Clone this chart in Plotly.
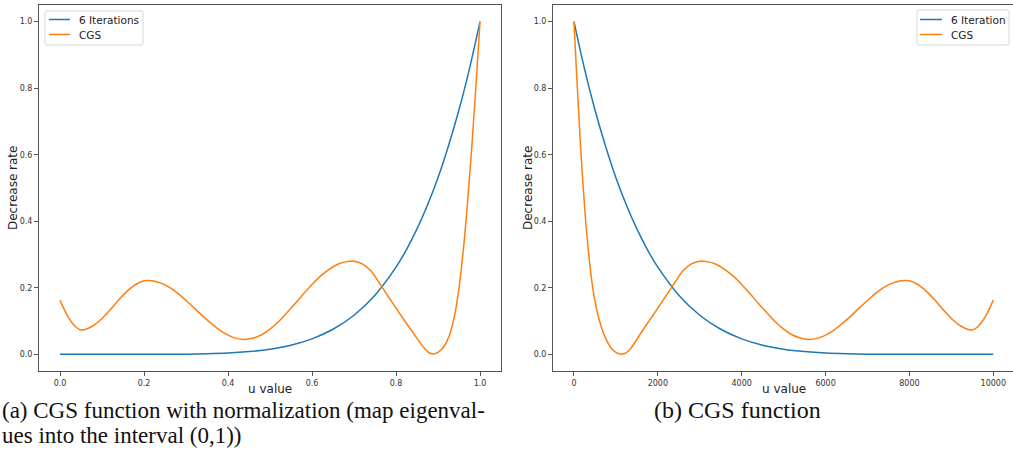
import re
import plotly.graph_objects as go

# ---- data ----
# (a) normalized u in [0, 1]
x_a_iter = [0.0, 0.05, 0.1, 0.15, 0.2, 0.25, 0.3, 0.35, 0.4, 0.45, 0.5, 0.55, 0.6, 0.65, 0.7,
            0.75, 0.8, 0.825, 0.85, 0.875, 0.9, 0.925, 0.95, 0.975, 1.0]
y_a_iter = [0.0, 0.0, 0.0, 0.0, 0.0001, 0.0002, 0.0007, 0.0018, 0.004, 0.0083, 0.0156, 0.0277,
            0.0467, 0.0754, 0.1176, 0.178, 0.262, 0.315, 0.377, 0.449, 0.531, 0.627, 0.735,
            0.859, 1.0]

x_a_cgs = [0.0, 0.01, 0.02, 0.03, 0.04, 0.05, 0.06, 0.07, 0.08, 0.10, 0.12, 0.14, 0.16, 0.18,
           0.20, 0.21, 0.22, 0.24, 0.26, 0.28, 0.30, 0.32, 0.34, 0.36, 0.38, 0.40, 0.42, 0.44,
           0.46, 0.48, 0.50, 0.52, 0.54, 0.56, 0.58, 0.60, 0.62, 0.64, 0.66, 0.68, 0.70, 0.72,
           0.74, 0.76, 0.78, 0.80, 0.82, 0.84, 0.85, 0.86, 0.87, 0.88, 0.89, 0.90, 0.91,
           0.92, 0.93, 0.94, 0.95, 0.96, 0.97, 0.98, 0.99, 1.00]
y_a_cgs = [0.163, 0.135, 0.111, 0.093, 0.080, 0.073, 0.075, 0.080, 0.087, 0.108, 0.135, 0.164,
           0.190, 0.210, 0.221, 0.222, 0.221, 0.214, 0.202, 0.184, 0.162, 0.139, 0.115, 0.093,
           0.073, 0.058, 0.048, 0.045, 0.049, 0.059, 0.076, 0.098, 0.125, 0.153, 0.182, 0.210,
           0.235, 0.255, 0.270, 0.278, 0.280, 0.272, 0.251, 0.215, 0.177, 0.139, 0.102, 0.066,
           0.048, 0.030, 0.015, 0.004, 0.001, 0.006, 0.017, 0.036, 0.068, 0.120, 0.200,
           0.310, 0.450, 0.615, 0.800, 1.0]

# (b) raw u in [0, 10000]
u_b_iter = [0, 250, 500, 750, 1000, 1250, 1500, 1750, 2000, 2500, 3000, 3500, 4000, 4500, 5000,
            5500, 6000, 6500, 7000, 7500, 8000, 8500, 9000, 9500, 10000]
y_b_iter = [1.0, 0.859, 0.735, 0.627, 0.531, 0.449, 0.377, 0.315, 0.262, 0.178, 0.1176, 0.0754,
            0.0467, 0.0277, 0.0156, 0.0083, 0.004, 0.0018, 0.0007, 0.0002, 0.0001, 0.0, 0.0,
            0.0, 0.0]

u_b_cgs = [0, 50, 100, 150, 200, 250, 300, 400, 500, 600, 700, 800, 900, 1000, 1100,
           1200, 1300, 1400, 1500, 1600, 1800, 2000, 2200, 2400, 2600, 2800, 3000, 3200, 3400,
           3600, 3800, 4000, 4200, 4400, 4600, 4800, 5000, 5200, 5400, 5600, 5800, 6000, 6200,
           6400, 6600, 6800, 7000, 7200, 7400, 7600, 7800, 7900, 8000, 8200, 8400, 8600, 8800,
           9000, 9200, 9300, 9400, 9500, 9600, 9700, 9800, 9900, 10000]
y_b_cgs = [1.0, 0.875, 0.755, 0.640, 0.540, 0.450, 0.370, 0.245, 0.160, 0.105, 0.065, 0.037,
           0.017, 0.006, 0.001, 0.002, 0.010, 0.026, 0.045, 0.065, 0.102, 0.139, 0.177,
           0.215, 0.251, 0.272, 0.280, 0.278, 0.270, 0.255, 0.235, 0.210, 0.182, 0.153, 0.125,
           0.098, 0.076, 0.059, 0.049, 0.045, 0.048, 0.058, 0.073, 0.093, 0.115, 0.139, 0.162,
           0.184, 0.202, 0.214, 0.221, 0.222, 0.221, 0.210, 0.190, 0.164, 0.135, 0.108, 0.087,
           0.080, 0.075, 0.073, 0.080, 0.093, 0.111, 0.135, 0.163]

y_ticks = [0.0, 0.2, 0.4, 0.6, 0.8, 1.0]
x_a_ticks = [0.0, 0.2, 0.4, 0.6, 0.8, 1.0]
x_b_ticks = [0, 2000, 4000, 6000, 8000, 10000]

names_a = ["6 Iterations", "CGS"]
names_b = ["6 Iteration", "CGS"]
captions_a = ["(a) CGS function with normalization (map eigenval-", "ues into the interval (0,1))"]
caption_b = "(b) CGS function"

# ---- figure ----
W, H = 1013, 465
BLUE, ORANGE = "#1f77b4", "#ff7f0e"
SANS = "DejaVu Sans"
SERIF = "Liberation Serif"


def px_x(p):
    return p / W


def px_y(p):
    return 1 - p / H


fig = go.Figure()
line_kw = dict(width=1.5, shape="spline", smoothing=1.0)
fig.add_trace(go.Scatter(x=x_a_iter, y=y_a_iter, mode="lines", name=names_a[0], showlegend=False,
                         line=dict(color=BLUE, **line_kw), xaxis="x", yaxis="y"))
fig.add_trace(go.Scatter(x=x_a_cgs, y=y_a_cgs, mode="lines", name=names_a[1], showlegend=False,
                         line=dict(color=ORANGE, **line_kw), xaxis="x", yaxis="y"))
fig.add_trace(go.Scatter(x=u_b_iter, y=y_b_iter, mode="lines", name=names_b[0], showlegend=False,
                         line=dict(color=BLUE, **line_kw), xaxis="x2", yaxis="y2"))
fig.add_trace(go.Scatter(x=u_b_cgs, y=y_b_cgs, mode="lines", name=names_b[1], showlegend=False,
                         line=dict(color=ORANGE, **line_kw), xaxis="x2", yaxis="y2"))

axis_common = dict(showline=True, linecolor="#555", linewidth=1, ticks="outside", ticklen=4,
                   tickcolor="#555", tickwidth=1, showgrid=False, zeroline=False,
                   tickfont=dict(family=SANS, size=8, color="#333"))

ydom = [px_y(371), px_y(5)]
fig.update_layout(
    width=W, height=H,
    margin=dict(l=0, r=0, t=0, b=0, autoexpand=False),
    paper_bgcolor="white", plot_bgcolor="white",
    xaxis=dict(domain=[px_x(39), px_x(501)], range=[-0.05, 1.05], tickvals=x_a_ticks,
               ticktext=[f"{v:.1f}" for v in x_a_ticks], anchor="y", mirror=True, **axis_common),
    yaxis=dict(domain=ydom, range=[-0.05, 1.05], tickvals=y_ticks,
               ticktext=[f"{v:.1f}" for v in y_ticks], anchor="x", mirror=True, **axis_common),
    xaxis2=dict(domain=[px_x(553), 1.0], range=[-500, 10470], tickvals=x_b_ticks,
                ticktext=[str(v) for v in x_b_ticks], anchor="y2", mirror=True, **axis_common),
    yaxis2=dict(domain=ydom, range=[-0.05, 1.05], tickvals=y_ticks,
                ticktext=[f"{v:.1f}" for v in y_ticks], anchor="x2", mirror=False, **axis_common),
    showlegend=False,
)

shapes = []
ann = []


def legend_box(x0, x1, y0, y1, line_x0, line_x1, text_x, names):
    r = 2
    path = (f"M{x0 + r},{y0} L{x1 - r},{y0} Q{x1},{y0} {x1},{y0 + r} L{x1},{y1 - r} "
            f"Q{x1},{y1} {x1 - r},{y1} L{x0 + r},{y1} Q{x0},{y1} {x0},{y1 - r} "
            f"L{x0},{y0 + r} Q{x0},{y0} {x0 + r},{y0} Z")

    def conv(m):
        px, py = float(m.group(1)), float(m.group(2))
        return f"{px_x(px):.5f},{px_y(py):.5f}"
    path = re.sub(r"([0-9.]+),([0-9.]+)", conv, path)
    shapes.append(dict(type="path", path=path, xref="paper", yref="paper",
                       line=dict(color="#d5d5d5", width=1), fillcolor="rgba(255,255,255,0.85)",
                       layer="above"))
    for name, col, yy in zip(names, (BLUE, ORANGE), (19.5, 34.5)):
        shapes.append(dict(type="line", xref="paper", yref="paper", x0=px_x(line_x0),
                           x1=px_x(line_x1), y0=px_y(yy), y1=px_y(yy),
                           line=dict(color=col, width=1.5), layer="above"))
        ann.append(dict(text=name, x=px_x(text_x), y=px_y(yy), xref="paper", yref="paper",
                        showarrow=False, xanchor="left", yanchor="middle",
                        font=dict(family=SANS, size=10.5, color="#222")))


legend_box(45, 143, 11, 45, 49, 70, 77, names_a)
legend_box(917, 1009, 10, 45, 920, 942, 949, names_b)

# axis titles
for cx in (270, 783.5):
    ann.append(dict(text="u value", x=px_x(cx), y=px_y(389), xref="paper", yref="paper",
                    showarrow=False, xanchor="center", yanchor="middle", borderpad=0,
                    font=dict(family=SANS, size=12, color="#222")))
for cx in (13, 528):
    ann.append(dict(text="Decrease rate", x=px_x(cx), y=px_y(188), xref="paper", yref="paper",
                    showarrow=False, xanchor="center", yanchor="middle", textangle=-90,
                    font=dict(family=SANS, size=12, color="#222")))
# captions
cap_font = dict(family=SERIF, size=23, color="#111")
ann.append(dict(text=captions_a[0], x=px_x(1), y=px_y(410), xref="paper", yref="paper",
                showarrow=False, xanchor="left", yanchor="middle", borderpad=0, font=cap_font))
ann.append(dict(text=captions_a[1], x=px_x(1), y=px_y(435), xref="paper", yref="paper",
                showarrow=False, xanchor="left", yanchor="middle", borderpad=0, font=cap_font))
ann.append(dict(text=caption_b, x=px_x(653), y=px_y(410), xref="paper", yref="paper",
                showarrow=False, xanchor="left", yanchor="middle", borderpad=0,
                font=dict(family=SERIF, size=24, color="#111")))
fig.update_layout(annotations=ann, shapes=shapes)

fig.write_html("out.html", config={"displayModeBar": False},
               post_script="document.body.style.margin='0px';document.body.style.overflow='hidden';")
